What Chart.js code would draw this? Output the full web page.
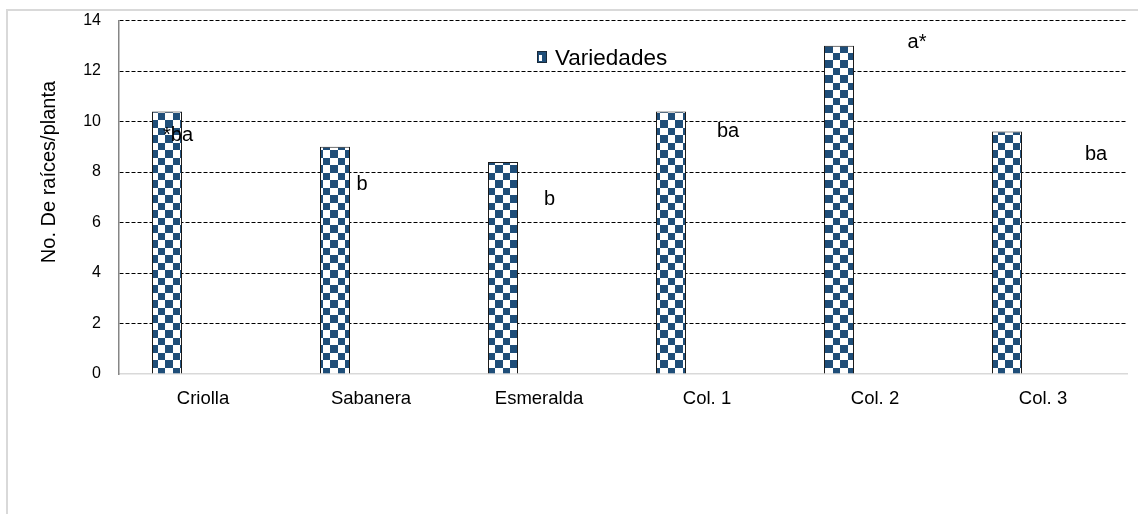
<!DOCTYPE html>
<html><head><meta charset="utf-8">
<script src="https://cdn.jsdelivr.net/npm/chart.js@4.4.0/dist/chart.umd.min.js"></script>
<style>
html,body{margin:0;padding:0;background:#fff;overflow:hidden;width:1138px;height:514px;}
#frame{position:absolute;left:6px;top:9px;width:1400px;height:800px;border:2px solid #d9d9d9;box-sizing:border-box;}
#wrap{position:absolute;left:0;top:0;width:1138px;height:514px;}
</style></head><body>
<div id="frame"></div>
<div id="wrap"><canvas id="c" width="1138" height="514"></canvas></div>
<script>
// ---- data ----
const categories = ['Criolla', 'Sabanera', 'Esmeralda', 'Col. 1', 'Col. 2', 'Col. 3'];
const rootCounts = [10.4, 9.0, 8.4, 10.4, 13.0, 9.6];
const seriesName = 'Variedades';
const significance = ['*ba', 'b', 'b', 'ba', 'a*', 'ba'];
const yTickValues = [0, 2, 4, 6, 8, 10, 12, 14];
const yTitle = 'No. De raíces/planta';

const FONT = '"Liberation Sans", Arial, sans-serif';
const NAVY = '#1f4e79';
const canvas = document.getElementById('c');
const mainCtx = canvas.getContext('2d');

function makeChecker() {
  const t = document.createElement('canvas');
  t.width = 15; t.height = 15;
  const g = t.getContext('2d');
  g.fillStyle = '#ffffff'; g.fillRect(0, 0, 15, 15);
  g.fillStyle = NAVY;
  g.fillRect(0, 0, 8, 8);
  g.fillRect(8, 8, 7, 7);
  return mainCtx.createPattern(t, 'repeat');
}
const checker = makeChecker();

const letterPlugin = {
  id: 'letters',
  afterDatasetsDraw(chart, args, opts) {
    const { ctx, scales: { x, y } } = chart;
    ctx.save();
    ctx.font = opts.size + 'px ' + FONT;
    ctx.fillStyle = '#000';
    ctx.textAlign = 'center';
    ctx.textBaseline = 'alphabetic';
    significance.forEach((t, i) => {
      const p = opts.positions[i];
      ctx.fillText(t, x.getPixelForValue(i) + p.dx, y.getPixelForValue(p.y));
    });
    ctx.restore();
  }
};

const legendPlugin = {
  id: 'innerLegend',
  afterDraw(chart, args, opts) {
    const { ctx, chartArea } = chart;
    const bx = chartArea.left + opts.dx, by = chartArea.top + opts.dy;
    ctx.save();
    ctx.fillStyle = NAVY;
    ctx.fillRect(bx, by, 10, 12);
    ctx.fillStyle = '#ffffff';
    ctx.fillRect(bx + 2, by + 4, 3, 6);
    ctx.strokeStyle = '#1a2a3a';
    ctx.lineWidth = 1;
    ctx.strokeRect(bx + 0.5, by + 0.5, 9, 11);
    ctx.font = opts.size + 'px ' + FONT;
    ctx.fillStyle = '#000';
    ctx.textAlign = 'left';
    ctx.textBaseline = 'alphabetic';
    ctx.fillText(chart.data.datasets[0].label, bx + 18, by + 13.6);
    ctx.restore();
  }
};

const yTitlePlugin = {
  id: 'yTitle',
  afterDraw(chart, args, opts) {
    const { ctx, chartArea } = chart;
    ctx.save();
    ctx.translate(chartArea.left - opts.dx, chartArea.top + opts.dy);
    ctx.rotate(-Math.PI / 2);
    ctx.font = opts.size + 'px ' + FONT;
    ctx.fillStyle = '#000';
    ctx.textAlign = 'center';
    ctx.textBaseline = 'alphabetic';
    ctx.fillText(yTitle, 0, 0);
    ctx.restore();
  }
};

new Chart(canvas, {
  type: 'bar',
  data: {
    labels: categories,
    datasets: [
      {
        label: seriesName,
        data: rootCounts,
        backgroundColor: checker,
        borderColor: '#1b1b1b',
        borderWidth: 1,
        categoryPercentage: 0.857,
        barPercentage: 0.4167
      },
      {
        label: '',
        data: categories.map(() => null),
        backgroundColor: 'rgba(0,0,0,0)',
        categoryPercentage: 0.857,
        barPercentage: 0.4167
      }
    ]
  },
  options: {
    responsive: false,
    animation: false,
    devicePixelRatio: 1,
    layout: { padding: { left: 79, right: 11, top: 20.5, bottom: 100 } },
    plugins: {
      legend: { display: false },
      tooltip: { enabled: false },
      letters: {
        size: 20,
        positions: [
          { dx: -25, y: 9.21 }, { dx: -9, y: 7.30 }, { dx: 10.5, y: 6.70 },
          { dx: 21, y: 9.37 }, { dx: 42, y: 12.93 }, { dx: 53, y: 8.46 }
        ]
      },
      innerLegend: { dx: 418, dy: 30.5, size: 22.5 },
      yTitle: { dx: 64, dy: 151.5, size: 20 }
    },
    scales: {
      x: {
        grid: { display: false, drawTicks: false },
        border: { display: true, color: '#d9d9d9', width: 1.5 },
        ticks: { font: { family: FONT, size: 18.5 }, color: '#000', padding: 14 },
        afterFit(s) { s.height = 40; }
      },
      y: {
        min: 0, max: 14,
        afterBuildTicks(s) { s.ticks = yTickValues.map(v => ({ value: v })); },
        grid: {
          drawTicks: true,
          tickLength: 9,
          tickColor: 'rgba(0,0,0,0)',
          color: c => (c.tick && c.tick.value === 0) ? 'rgba(0,0,0,0)' : '#000',
          lineWidth: 1
        },
        border: { display: true, color: '#868686', width: 1.5, dash: [4, 2] },
        ticks: { font: { family: FONT, size: 16 }, color: '#000', padding: 9 },
        afterFit(s) { s.width = 40; }
      }
    }
  },
  plugins: [letterPlugin, legendPlugin, yTitlePlugin]
});
</script>
</body></html>
